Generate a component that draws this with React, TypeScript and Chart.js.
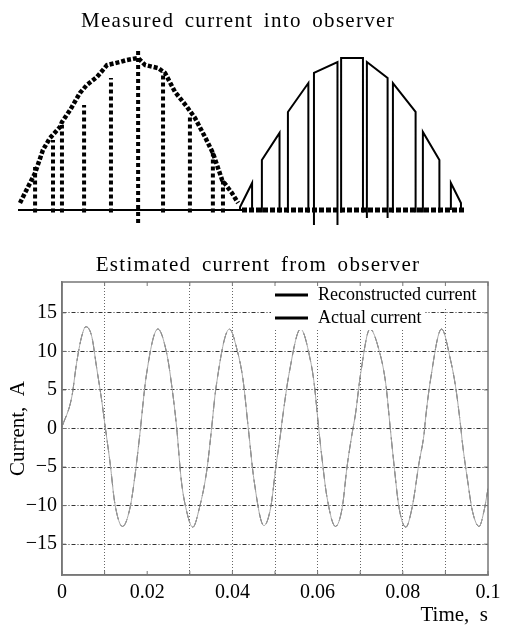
import React, { useEffect, useRef } from "react";
import { Chart, registerables } from "chart.js";
Chart.register(...registerables);

// ---------- Top panel: measured current into observer (time in ms, current in A) ----------
const leftBaseTime = [0, 8.0];
const rightBaseTime = [8.0, 16.0];

const leftEnvelopeTime = [0.07, 0.25, 0.61, 0.89, 1.14, 1.5, 1.57, 1.86, 2.21, 2.46, 2.82, 3.18, 3.64, 3.89, 4.29, 4.54, 5.0, 5.25, 5.61, 6.04, 6.32, 6.68, 6.96, 7.29, 7.64, 7.86];
const leftEnvelopeCurrent = [0.58, 1.42, 3.08, 5.0, 6.0, 6.92, 7.33, 8.33, 9.75, 10.42, 11.08, 12.08, 12.33, 12.5, 12.67, 12.08, 11.83, 11.42, 9.83, 8.58, 7.67, 6.08, 4.75, 2.5, 1.42, 0.58];

const leftColumnTime = [0.61, 1.25, 1.57, 2.36, 3.32, 4.29, 5.18, 6.14, 6.96, 7.32];
const leftColumnTop = [3.58, 5.83, 7.08, 8.75, 11.0, 13.3, 11.5, 7.92, 5.0, 2.5];
const leftColumnBottom = [-0.2, -0.2, -0.2, -0.2, -0.2, -1.67, -0.2, -0.2, -0.2, -0.2];

const pulseOn = [7.93, 8.71, 9.64, 10.57, 11.54, 12.46, 13.39, 14.46, 15.46];
const pulseOff = [8.36, 9.34, 10.37, 11.41, 12.32, 13.2, 14.2, 15.05, 15.82];
const pulseRise = [0.25, 4.17, 8.17, 11.42, 12.67, 12.33, 10.58, 6.5, 2.25];
const pulseFall = [2.25, 6.42, 10.58, 12.33, 12.67, 11.0, 8.17, 4.17, 0.58];
const pulseFloor = [0, -0.2, -0.2, -1.5, -0.2, -0.67, -0.2, -0.2, 0];

// ---------- Bottom panel: estimated current from observer ----------
const timeS = [
  0.0, 0.0023, 0.0034, 0.0046, 0.0056, 0.007, 0.0081, 0.0093, 0.0102, 0.0113, 0.0124, 0.0142, 0.016, 0.0172, 0.0182,
  0.0198, 0.0225, 0.0246, 0.0257, 0.0269, 0.028, 0.0292, 0.0307, 0.0323, 0.034, 0.0349,
  0.0362, 0.0393, 0.0411, 0.0425, 0.0437, 0.0451, 0.0474, 0.049, 0.0502, 0.0512,
  0.0517, 0.0533, 0.056, 0.0584, 0.0592, 0.0603, 0.061, 0.0622, 0.0642, 0.0658, 0.0669, 0.0681,
  0.0689, 0.0701, 0.0723, 0.0744, 0.076, 0.0771, 0.0779, 0.0791, 0.0807, 0.0822, 0.0838, 0.085,
  0.0853, 0.0865, 0.0891, 0.0912, 0.0924, 0.0936, 0.094, 0.0952, 0.0963, 0.0979, 0.0991, 0.1,
];
const reconstructedA = [
  0.2, 4.1, 8.4, 11.9, 13.2, 11.9, 8.0, 3.7, 0.0, -4.5, -9.7, -12.7, -10.2, -5.8, -1.1,
  6.9, 12.9, 9.7, 5.8, 0.2, -6.7, -10.6, -12.8, -10.2, -5.4, -1.1,
  5.5, 12.9, 10.2, 6.3, 0.2, -6.8, -12.6, -10.2, -5.0, -1.1,
  1.1, 7.1, 12.9, 8.6, 5.8, -0.2, -3.7, -8.9, -12.7, -10.2, -5.0, -0.65,
  1.9, 7.1, 12.9, 10.2, 5.8, -0.2, -4.5, -10.2, -12.8, -10.2, -4.5, -0.65,
  1.1, 6.3, 12.9, 8.9, 5.4, 0.2, -1.9, -6.7, -10.6, -12.7, -10.6, -7.8,
];
const actualA = reconstructedA.slice();

const xGridTicks = [0, 0.01, 0.02, 0.03, 0.04, 0.05, 0.06, 0.07, 0.08, 0.09, 0.1];
const xLabelTicks = [0, 0.02, 0.04, 0.06, 0.08, 0.1];
const xHiddenGrid = [0, 0.02, 0.1];
const yTicks = [-15, -10, -5, 0, 5, 10, 15];

const SERIF = '"Liberation Serif", "Times New Roman", serif';

const pts = (xs: number[], ys: (number | null)[]) => xs.map((x, i) => ({ x, y: ys[i] }));

const framePlugin = {
  id: "frame",
  afterDraw(chart: any) {
    const { ctx, chartArea, scales } = chart;
    ctx.save();
    ctx.strokeStyle = "#777";
    ctx.lineWidth = 1.5;
    ctx.setLineDash([]);
    ctx.strokeRect(chartArea.left, chartArea.top, chartArea.right - chartArea.left, chartArea.bottom - chartArea.top);
    // small inner tick marks on all four sides
    ctx.lineWidth = 1;
    ctx.beginPath();
    scales.x.ticks.forEach((t: any) => {
      const x = scales.x.getPixelForValue(t.value);
      ctx.moveTo(x, chartArea.bottom);
      ctx.lineTo(x, chartArea.bottom - 4);
      ctx.moveTo(x, chartArea.top);
      ctx.lineTo(x, chartArea.top + 4);
    });
    scales.y.ticks.forEach((t: any) => {
      const y = scales.y.getPixelForValue(t.value);
      ctx.moveTo(chartArea.left, y);
      ctx.lineTo(chartArea.left + 4, y);
      ctx.moveTo(chartArea.right, y);
      ctx.lineTo(chartArea.right - 4, y);
    });
    ctx.stroke();
    ctx.restore();
  },
};

const insideLegend = {
  id: "insideLegend",
  afterDatasetsDraw(chart: any) {
    const { ctx, chartArea } = chart;
    ctx.save();
    ctx.font = `18px ${SERIF}`;
    chart.data.datasets.forEach((ds: any, i: number) => {
      const y = chartArea.top + 13 + i * 23;
      const x0 = chartArea.left + 213;
      const tx = chartArea.left + 256;
      const w = ctx.measureText(ds.label).width;
      ctx.fillStyle = "#fff";
      ctx.fillRect(x0 - 4, y - 11, tx + w + 4 - (x0 - 4), 23);
      ctx.strokeStyle = "#000";
      ctx.lineWidth = 3;
      ctx.setLineDash([]);
      ctx.beginPath();
      ctx.moveTo(x0, y);
      ctx.lineTo(chartArea.left + 246, y);
      ctx.stroke();
      ctx.fillStyle = "#000";
      ctx.textBaseline = "middle";
      ctx.fillText(ds.label, tx, y);
    });
    ctx.restore();
  },
};

const near = (a: number, b: number) => Math.abs(a - b) < 1e-9;

export default function App() {
  const topRef = useRef<HTMLCanvasElement | null>(null);
  const botRef = useRef<HTMLCanvasElement | null>(null);

  useEffect(() => {
    if (!topRef.current || !botRef.current) return;

    const leftColumns = leftColumnTime.flatMap((t, i) => [
      { x: t, y: leftColumnBottom[i] },
      { x: t, y: leftColumnTop[i] },
      { x: t, y: null },
    ]);
    const rightPulses = pulseOn.flatMap((on, i) => [
      { x: on, y: pulseFloor[i] },
      { x: on, y: pulseRise[i] },
      { x: pulseOff[i], y: pulseFall[i] },
      { x: pulseOff[i], y: pulseFloor[i] },
      { x: pulseOff[i], y: null },
    ]);

    const top = new Chart(topRef.current, {
      type: "line",
      data: {
        datasets: [
          { label: "left base", data: pts(leftBaseTime, [0, 0]), borderColor: "#000", borderWidth: 2, pointRadius: 0 },
          { label: "right base", data: pts(rightBaseTime, [0, 0]), borderColor: "#000", borderWidth: 5, borderDash: [5, 2], borderCapStyle: "butt", pointRadius: 0 },
          { label: "left envelope", data: pts(leftEnvelopeTime, leftEnvelopeCurrent), borderColor: "#000", borderWidth: 4.5, borderDash: [4, 2], borderCapStyle: "butt", pointRadius: 0 },
          { label: "left columns", data: leftColumns as any, borderColor: "#000", borderWidth: 4, borderDash: [4, 3], borderCapStyle: "butt", pointRadius: 0, spanGaps: false },
          { label: "right pulses", data: rightPulses as any, borderColor: "#000", borderWidth: 2, pointRadius: 0, spanGaps: false },
        ],
      },
      options: {
        animation: false,
        responsive: false,
        events: [],
        layout: { padding: { left: 18, right: 42, top: 40, bottom: 7 } },
        plugins: { legend: { display: false }, tooltip: { enabled: false }, title: { display: false } },
        scales: {
          x: { type: "linear", min: 0, max: 16, display: false },
          y: { type: "linear", min: -1.25, max: 14.1667, display: false },
        },
      },
    } as any);

    const bottom = new Chart(botRef.current, {
      type: "line",
      data: {
        datasets: [
          { label: "Reconstructed current", data: pts(timeS, reconstructedA), borderColor: "#a8a8a8", borderWidth: 1, pointRadius: 0, cubicInterpolationMode: "monotone" },
          { label: "Actual current", data: pts(timeS, actualA), borderColor: "#2a2a2a", borderWidth: 1, borderDash: [12, 5], pointRadius: 0, cubicInterpolationMode: "monotone" },
        ],
      },
      options: {
        animation: false,
        responsive: false,
        events: [],
        layout: { padding: { left: 0, right: 20, top: 50, bottom: 0 } },
        plugins: { legend: { display: false }, tooltip: { enabled: false }, title: { display: false } },
        scales: {
          x: {
            type: "linear",
            min: 0,
            max: 0.1,
            afterBuildTicks: (s: any) => {
              s.ticks = xGridTicks.map((v) => ({ value: v }));
            },
            afterFit: (s: any) => {
              s.height = 55;
            },
            ticks: {
              autoSkip: false,
              maxRotation: 0,
              padding: 6,
              color: "#000",
              font: { family: SERIF, size: 20 },
              callback: (v: number) => (xLabelTicks.some((t) => near(t, v)) ? String(Number(v.toFixed(2))) : ""),
            },
            grid: {
              drawTicks: false,
              lineWidth: 1,
              color: (c: any) => (c.tick && xHiddenGrid.some((t) => near(t, c.tick.value)) ? "rgba(0,0,0,0)" : "#666"),
            },
            border: { display: true, color: "#777", width: 1.5, dash: [1, 2] },
            title: { display: true, text: "Time,  s", align: "end", color: "#000", font: { family: SERIF, size: 21 }, padding: { top: 0, bottom: 2 } },
          },
          y: {
            type: "linear",
            min: -19,
            max: 19,
            afterBuildTicks: (s: any) => {
              s.ticks = yTicks.map((v) => ({ value: v }));
            },
            afterFit: (s: any) => {
              s.width = 62;
            },
            ticks: {
              padding: 5,
              color: "#000",
              font: { family: SERIF, size: 20 },
              callback: (v: number) => (v < 0 ? "\u2212" + Math.abs(v) : String(v)),
            },
            grid: { drawTicks: false, lineWidth: 1, color: "#333" },
            border: { display: true, color: "#777", width: 1.5, dash: [4, 2, 1, 2] },
            title: { display: true, text: "Current,  A", color: "#000", font: { family: SERIF, size: 21 }, padding: { top: 6, bottom: 0 } },
          },
        },
      },
      plugins: [insideLegend, framePlugin],
    } as any);

    return () => {
      top.destroy();
      bottom.destroy();
    };
  }, []);

  const titleStyle: React.CSSProperties = {
    position: "absolute",
    fontFamily: SERIF,
    fontSize: 21,
    letterSpacing: 1.3,
    wordSpacing: 4,
    color: "#000",
    textAlign: "center",
    whiteSpace: "pre",
    lineHeight: "24px",
  };

  return (
    <div style={{ position: "fixed", left: 0, top: 0, width: 508, height: 630, background: "#fff", overflow: "hidden" }}>
      <canvas ref={topRef} width={508} height={232} style={{ position: "absolute", left: 0, top: 0, width: 508, height: 232 }} />
      <canvas ref={botRef} width={508} height={398} style={{ position: "absolute", left: 0, top: 232, width: 508, height: 398 }} />
      <div style={{ ...titleStyle, left: 0, width: 476, top: 8 }}>Measured current into observer</div>
      <div style={{ ...titleStyle, left: 8, width: 500, top: 252 }}>Estimated current from observer</div>
    </div>
  );
}
